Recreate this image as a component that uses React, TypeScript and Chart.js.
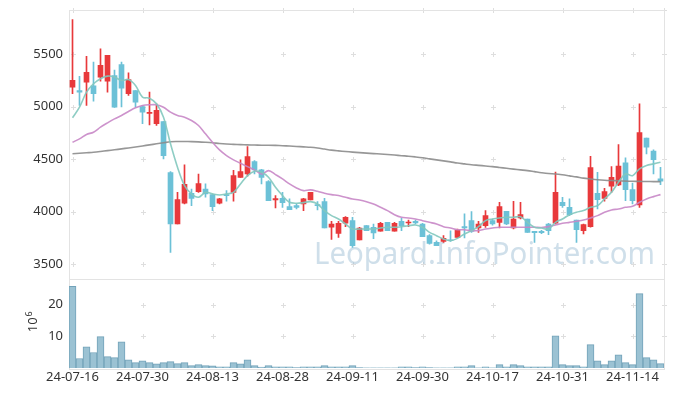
import React, { useEffect, useRef } from 'react';
import { Chart, registerables } from 'chart.js';

Chart.register(...registerables);

const dates = [
  '24-07-16','24-07-17','24-07-18','24-07-19','24-07-22','24-07-23','24-07-24','24-07-25','24-07-26','24-07-29',
  '24-07-30','24-07-31','24-08-01','24-08-02','24-08-05','24-08-06','24-08-07','24-08-08','24-08-09','24-08-12',
  '24-08-13','24-08-14','24-08-16','24-08-19','24-08-20','24-08-21','24-08-22','24-08-23','24-08-26','24-08-27',
  '24-08-28','24-08-29','24-08-30','24-09-02','24-09-03','24-09-04','24-09-05','24-09-06','24-09-09','24-09-10',
  '24-09-11','24-09-12','24-09-13','24-09-19','24-09-20','24-09-23','24-09-24','24-09-25','24-09-26','24-09-27',
  '24-09-30','24-10-02','24-10-04','24-10-07','24-10-08','24-10-10','24-10-11','24-10-14','24-10-15','24-10-16',
  '24-10-17','24-10-18','24-10-21','24-10-22','24-10-23','24-10-24','24-10-25','24-10-28','24-10-29','24-10-30',
  '24-10-31','24-11-01','24-11-04','24-11-05','24-11-06','24-11-07','24-11-08','24-11-11','24-11-12','24-11-13',
  '24-11-14','24-11-15','24-11-18','24-11-19','24-11-20',
];

const openP = [
  5185,5153,5233,5198,5280,5242,5296,5401,5122,5153,
  5000,4934,4836,4858,4372,3881,4079,4174,4190,4215,
  4161,4079,4161,4183,4326,4358,4476,4397,4285,4110,
  4126,4047,4056,4072,4110,4063,4094,3850,3792,3888,
  3913,3729,3865,3850,3812,3897,3812,3907,3891,3907,
  3881,3770,3706,3716,3729,3754,3856,3913,3843,3866,
  3913,3897,4002,3843,3939,3929,3811,3811,3881,3888,
  4088,4040,3919,3818,3856,4174,4126,4241,4253,4463,
  4209,4063,4699,4575,4311,
];
const highP = [
  5828,5287,5478,5424,5551,5487,5347,5423,5322,5153,
  5010,5137,5026,4858,4381,4184,4444,4215,4358,4263,
  4161,4126,4199,4393,4492,4619,4486,4403,4295,4152,
  4183,4120,4072,4126,4183,4094,4126,3907,3907,3952,
  3945,3850,3865,3881,3897,3897,3897,3936,3919,3919,
  3888,3780,3722,3770,3817,3834,3977,4000,3906,4009,
  3929,4088,4002,4097,4088,3929,3811,3820,3888,4375,
  4136,4120,3919,3881,4525,4374,4222,4428,4638,4511,
  4272,5026,4699,4587,4422,
];
const lowP = [
  5122,5010,5010,5052,5242,5137,4993,4997,5106,4995,
  4836,4826,4820,4501,3611,3881,4072,4056,4183,4136,
  4009,4072,4098,4098,4326,4336,4358,4263,4104,4034,
  4040,4018,4024,4009,4110,4015,3843,3735,3754,3856,
  3659,3729,3818,3742,3812,3818,3812,3818,3856,3881,
  3760,3690,3674,3706,3715,3750,3748,3801,3801,3849,
  3870,3843,3875,3834,3930,3800,3706,3790,3780,3881,
  4040,3961,3706,3786,3850,4024,4098,4183,4247,4104,
  4072,4040,4549,4358,4257,
];
const closeP = [
  5249,5137,5325,5122,5392,5487,4995,5175,5258,5042,
  4947,4944,4963,4533,3881,4114,4260,4126,4266,4168,
  4047,4120,4152,4342,4381,4524,4397,4326,4104,4123,
  4085,4018,4040,4120,4183,4056,3843,3881,3888,3945,
  3674,3843,3818,3796,3888,3818,3888,3865,3900,3891,
  3760,3697,3674,3745,3722,3824,3843,3811,3881,3961,
  3881,4047,3881,3929,3970,3802,3798,3798,3818,4183,
  4056,3970,3827,3875,4419,4114,4190,4327,4432,4209,
  4104,4753,4613,4495,4289,
];

const ma5 = [
  4893,4994,5137,5217,5265,5290,5281,5249,5258,5201,
  5090,5080,5026,4899,4645,4422,4247,4168,4136,4183,
  4168,4158,4168,4183,4263,4342,4384,4374,4327,4231,
  4152,4088,4079,4085,4094,4072,4009,3961,3929,3881,
  3834,3834,3834,3834,3843,3850,3850,3856,3865,3872,
  3850,3802,3770,3738,3722,3745,3786,3818,3856,3913,
  3929,3939,3945,3945,3951,3897,3850,3843,3834,3897,
  3929,3970,3993,4009,4040,4056,4120,4183,4279,4358,
  4342,4406,4438,4454,4470,
];
const ma20 = [
  4660,4692,4734,4756,4804,4845,4883,4915,4953,4988,
  5010,5017,5017,4994,4947,4915,4899,4867,4820,4740,
  4660,4587,4533,4492,4460,4428,4397,4358,4390,4352,
  4311,4263,4225,4199,4206,4193,4174,4161,4152,4136,
  4120,4110,4094,4072,4040,4009,3970,3945,3939,3929,
  3913,3897,3881,3856,3843,3827,3827,3818,3818,3834,
  3843,3850,3850,3850,3850,3850,3850,3848,3856,3872,
  3888,3897,3907,3919,3939,3961,3993,4015,4024,4040,
  4050,4088,4120,4142,4161,
];
const ma120 = [
  4550,4555,4560,4565,4572,4580,4588,4597,4606,4615,
  4625,4635,4645,4655,4665,4667,4667,4666,4664,4660,
  4655,4648,4643,4640,4637,4635,4634,4632,4632,4630,
  4627,4624,4620,4616,4612,4605,4595,4585,4578,4572,
  4566,4561,4556,4552,4548,4543,4538,4532,4527,4520,
  4512,4502,4492,4483,4473,4462,4454,4446,4440,4434,
  4428,4420,4412,4404,4397,4390,4380,4370,4362,4358,
  4350,4340,4330,4318,4310,4303,4298,4295,4293,4290,
  4288,4287,4286,4285,4285,
];

const volume = [
  25.8,3.0,6.7,4.9,9.9,3.6,3.3,8.3,2.6,1.7,
  2.3,1.7,1.3,1.7,2.0,1.4,1.7,0.75,1.05,0.75,
  0.7,0.4,0.4,1.7,1.3,2.6,0.75,0.3,0.75,0.4,
  0.4,0.4,0.1,0.4,0.4,0.4,0.75,0.4,0.4,0.4,
  0.75,0.1,0.05,0.05,0.05,0.05,0.05,0.4,0.4,0.1,
  0.4,0.1,0.05,0.05,0.05,0.4,0.4,0.75,0.05,0.4,
  0.05,1.05,0.4,1.05,0.75,0.4,0.4,0.4,0.4,10.2,
  1.05,0.75,0.75,0.4,7.4,2.3,1.05,2.3,4.2,1.7,
  1.05,23.5,3.3,2.6,1.4,
];

const priceTicks = [3500, 4000, 4500, 5000, 5500];
const volumeTicks = [10, 20];
const watermark = 'Leopard.InfoPointer.com';

const UP = '#e8393b';
const DOWN = '#6cc1d7';
const FONT = "'Noto Sans', sans-serif";

const panelPlugin = {
  id: 'panels',
  beforeDatasetsDraw(chart: any) {
    const { ctx, scales } = chart;
    const x = scales.x, y = scales.y, yv = scales.yv;
    const left = x.left, right = x.right;
    ctx.save();
    // cross marks
    ctx.strokeStyle = '#dedede';
    ctx.lineWidth = 1;
    const xs: number[] = [];
    for (let i = 0; i < dates.length; i += 10) xs.push(x.getPixelForValue(i));
    xs.push(right);
    const ys = priceTicks.map((v) => y.getPixelForValue(v)).concat(volumeTicks.map((v) => yv.getPixelForValue(v)));
    ys.push(y.top);
    for (const px of xs) {
      for (const py of ys) {
        const cx = Math.round(px) + 0.5, cy = Math.round(py) + 0.5;
        ctx.beginPath();
        ctx.moveTo(cx - 2.5, cy); ctx.lineTo(cx + 2.5, cy);
        ctx.moveTo(cx, cy - 2.5); ctx.lineTo(cx, cy + 2.5);
        ctx.stroke();
      }
    }
    // panel borders
    ctx.strokeStyle = '#e3e3e3';
    ctx.strokeRect(Math.round(left) + 0.5, Math.round(y.top) + 0.5, Math.round(right - left), Math.round(y.bottom - y.top));
    ctx.strokeRect(Math.round(left) + 0.5, Math.round(yv.top) + 0.5, Math.round(right - left), Math.round(yv.bottom - yv.top));
    // watermark
    ctx.font = `30px ${FONT}`;
    ctx.fillStyle = 'rgba(160,192,214,0.5)';
    ctx.textAlign = 'left';
    ctx.textBaseline = 'alphabetic';
    ctx.fillText(watermark, left + 245, y.bottom - 15, 341);
    ctx.restore();
  },
  afterDraw(chart: any) {
    const { ctx, scales } = chart;
    const yv = scales.yv;
    ctx.save();
    ctx.translate(37, (yv.top + yv.bottom) / 2 + 9);
    ctx.rotate(-Math.PI / 2);
    ctx.fillStyle = '#333';
    ctx.font = `13px ${FONT}`;
    ctx.textBaseline = 'alphabetic';
    ctx.textAlign = 'left';
    ctx.fillText('10', 0, 0);
    const w = ctx.measureText('10').width;
    ctx.font = `9px ${FONT}`;
    ctx.fillText('6', w + 1, -5);
    ctx.restore();
  },
};

export default function App() {
  const ref = useRef<HTMLCanvasElement | null>(null);

  useEffect(() => {
    if (!ref.current) return;
    const colors = closeP.map((c, i) => (c >= openP[i] ? UP : DOWN));
    const fitY = (s: any) => { s.width = 69; s.paddingTop = 0; s.paddingBottom = 0; };
    const chart = new Chart(ref.current, {
      type: 'bar',
      data: {
        labels: dates,
        datasets: [
          {
            type: 'line', label: 'MA5', data: ma5, yAxisID: 'y', borderColor: 'rgba(130,200,190,0.9)',
            borderWidth: 1.6, pointRadius: 0, tension: 0.35, order: 1,
          } as any,
          {
            type: 'line', label: 'MA20', data: ma20, yAxisID: 'y', borderColor: 'rgba(200,135,198,0.9)',
            borderWidth: 1.6, pointRadius: 0, tension: 0.35, order: 1,
          } as any,
          {
            type: 'line', label: 'MA120', data: ma120, yAxisID: 'y', borderColor: 'rgba(140,140,140,0.9)',
            borderWidth: 1.6, pointRadius: 0, tension: 0.35, order: 1,
          } as any,
          {
            type: 'bar', label: 'body', data: openP.map((o, i) => [o, closeP[i]]), yAxisID: 'y',
            backgroundColor: colors, barThickness: 5, grouped: false, minBarLength: 1, order: 2,
          } as any,
          {
            type: 'bar', label: 'wick', data: lowP.map((l, i) => [l, highP[i]]), yAxisID: 'y',
            backgroundColor: colors, barThickness: 1, grouped: false, order: 3,
          } as any,
          {
            type: 'bar', label: 'volume', data: volume, yAxisID: 'yv',
            backgroundColor: '#9bc2d3', borderColor: '#72a2b9', borderWidth: 1,
            barPercentage: 1, categoryPercentage: 1, grouped: false, order: 4,
          } as any,
        ],
      },
      options: {
        animation: false,
        responsive: false,
        devicePixelRatio: 1,
        layout: { padding: { left: 0, right: 9, top: 10, bottom: 0 } },
        plugins: { legend: { display: false }, tooltip: { enabled: false } },
        scales: {
          x: {
            type: 'category',
            offset: true,
            grid: { display: false, drawTicks: false },
            border: { display: false },
            ticks: {
              autoSkip: false, maxRotation: 0, minRotation: 0, padding: 1,
              color: '#333', font: { family: FONT, size: 13 },
              callback: (_v: any, idx: number) => (idx % 10 === 0 ? dates[idx] : ''),
            },
            afterFit: (s: any) => { s.height = 28; },
          },
          yv: {
            type: 'linear', position: 'left', stack: 'panel', stackWeight: 1,
            min: 0, max: 28.3,
            grid: { display: false, drawTicks: false },
            border: { display: false },
            ticks: { padding: 6, color: '#333', font: { family: FONT, size: 13 }, callback: (v: any) => String(v) },
            afterBuildTicks: (s: any) => { s.ticks = volumeTicks.map((v) => ({ value: v })); },
            afterFit: fitY,
          },
          y: {
            type: 'linear', position: 'left', stack: 'panel', stackWeight: 3,
            min: 3362, max: 5920,
            grid: { display: false, drawTicks: false },
            border: { display: false },
            ticks: { padding: 6, color: '#333', font: { family: FONT, size: 13 }, callback: (v: any) => String(v) },
            afterBuildTicks: (s: any) => { s.ticks = priceTicks.map((v) => ({ value: v })); },
            afterFit: fitY,
          },
        } as any,
      },
      plugins: [panelPlugin],
    } as any);
    return () => chart.destroy();
  }, []);

  return (
    <div style={{ position: 'fixed', left: 0, top: 0, width: 673, height: 396, background: '#fff' }}>
      <canvas ref={ref} width={673} height={396} style={{ display: 'block' }} />
    </div>
  );
}
